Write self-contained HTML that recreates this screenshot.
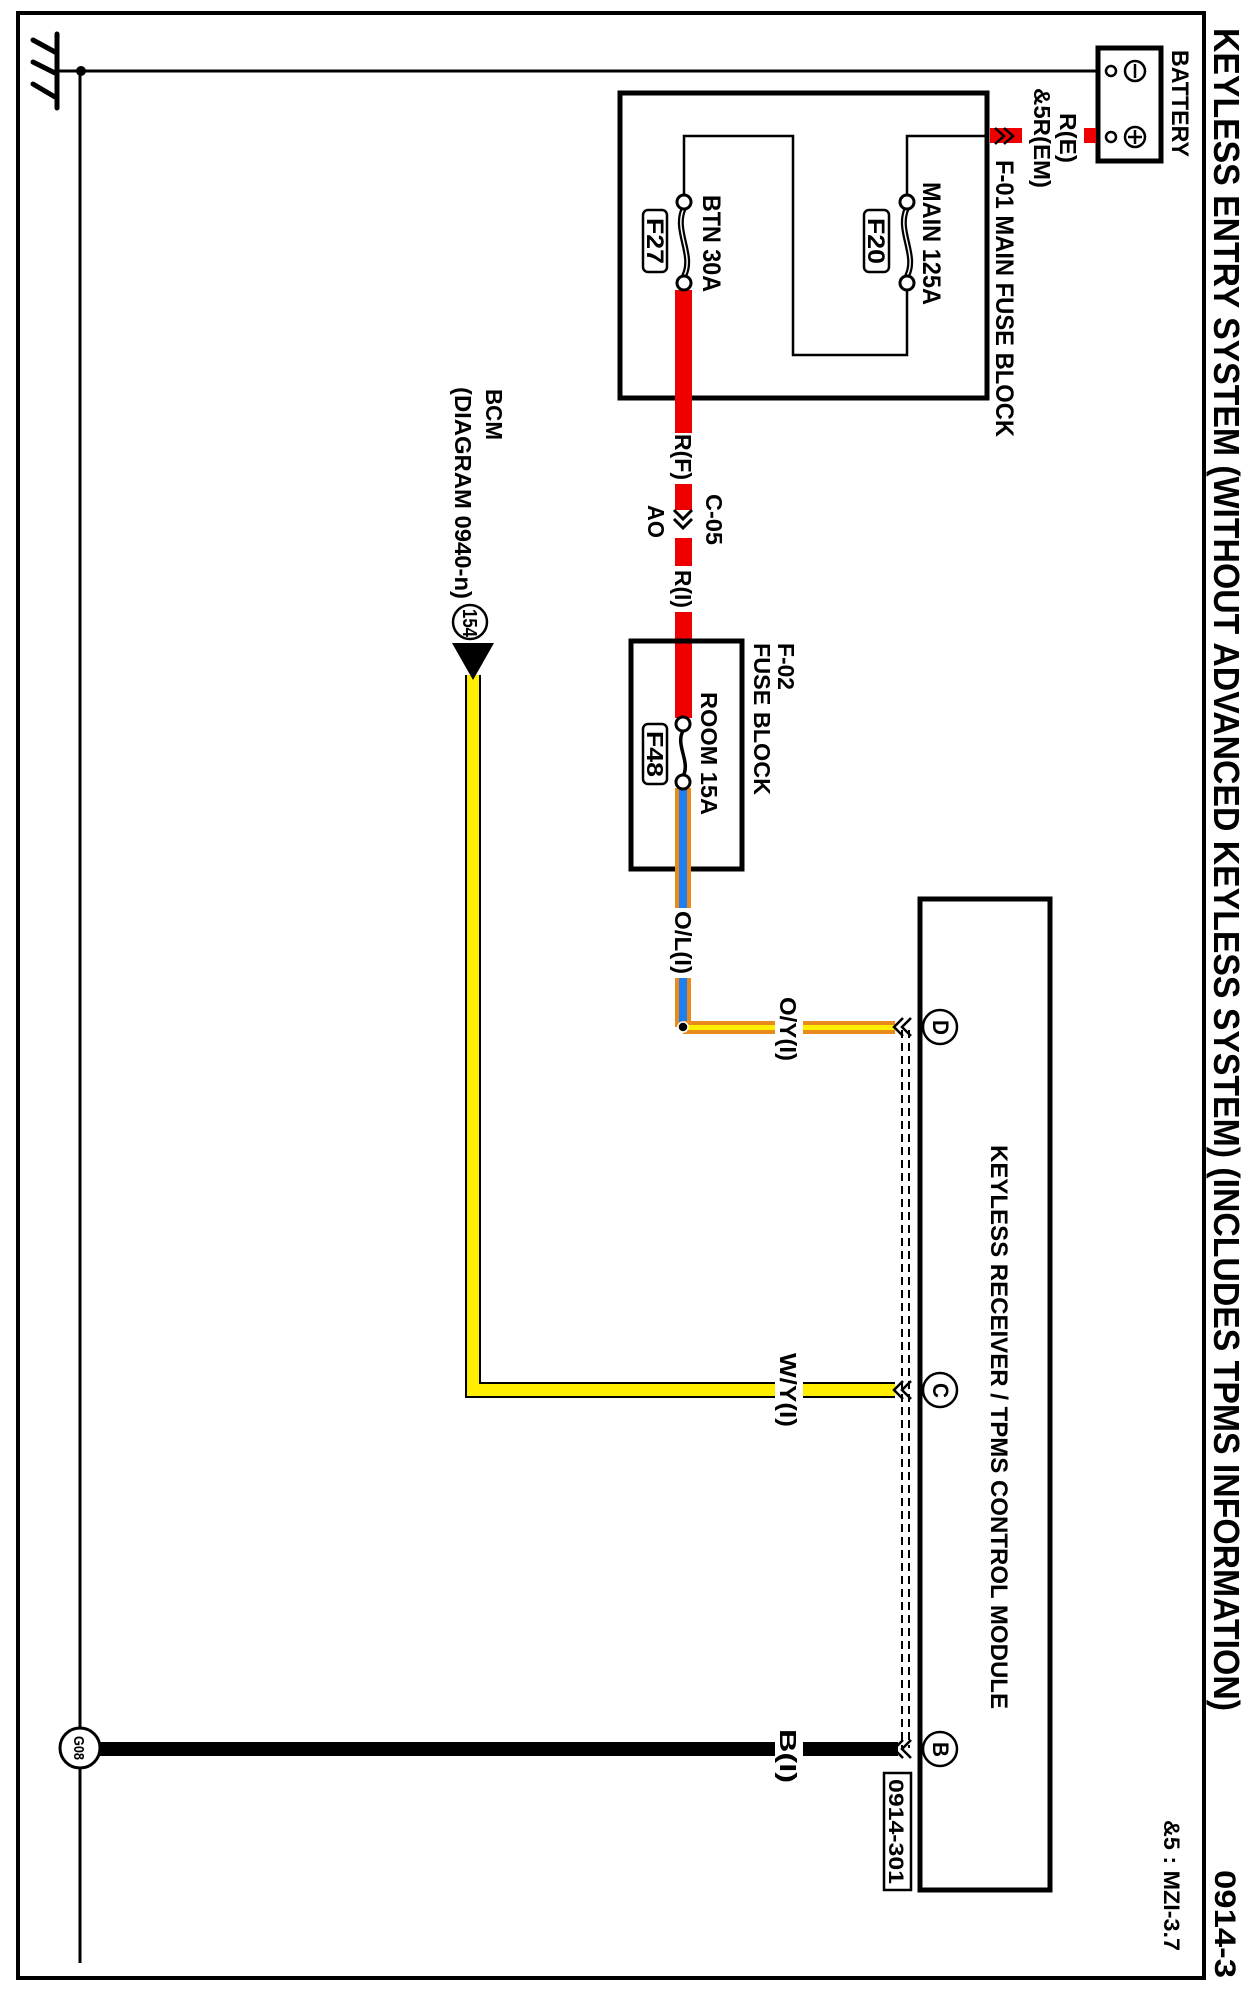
<!DOCTYPE html>
<html><head><meta charset="utf-8"><style>
html,body{margin:0;padding:0;background:#fff;}
svg{display:block;}
text{font-family:"Liberation Sans",Arial,sans-serif;font-weight:bold;fill:#000;}
</style></head><body>
<svg width="1253" height="1998" viewBox="0 0 1253 1998" xmlns="http://www.w3.org/2000/svg">
<rect x="18" y="13" width="1186" height="1965" fill="none" stroke="#000" stroke-width="4"/>
<g stroke="#000" stroke-width="5" stroke-linecap="round">
<line x1="57" y1="34" x2="57" y2="108"/>
<line x1="33" y1="40" x2="55" y2="52"/>
<line x1="33" y1="62" x2="57" y2="74"/>
<line x1="33" y1="84" x2="55" y2="97"/>
</g>
<line x1="57" y1="71" x2="1100" y2="71" stroke="#000" stroke-width="3"/>
<circle cx="81" cy="71" r="5" fill="#000"/>
<line x1="80" y1="71" x2="80" y2="1963" stroke="#000" stroke-width="3"/>

<rect x="1098" y="48" width="63" height="113" fill="#fff" stroke="#000" stroke-width="5"/>
<circle cx="1111" cy="71" r="5" fill="#fff" stroke="#000" stroke-width="2.5"/>
<circle cx="1111" cy="137" r="5" fill="#fff" stroke="#000" stroke-width="2.5"/>
<circle cx="1135" cy="71" r="10" fill="#fff" stroke="#000" stroke-width="2.5"/>
<line x1="1135" y1="64" x2="1135" y2="78" stroke="#000" stroke-width="2.5"/>
<circle cx="1135" cy="137" r="10" fill="#fff" stroke="#000" stroke-width="2.5"/>
<line x1="1135" y1="130" x2="1135" y2="144" stroke="#000" stroke-width="2.5"/>
<line x1="1128" y1="137" x2="1142" y2="137" stroke="#000" stroke-width="2.5"/>
<rect x="1084" y="128" width="12" height="15" fill="#e00"/>
<rect x="990" y="128" width="32" height="15" fill="#e00"/>
<path d="M995 128 L1004 136 L995 144 M1004 128 L1013 136 L1004 144" fill="none" stroke="#000" stroke-width="2.5"/>

<rect x="620" y="93" width="367" height="305" fill="none" stroke="#000" stroke-width="5"/>
<path d="M987 136 L907 136 L907 195 M907 290 L907 355 L793 355 L793 136 L684 136 L684 195" fill="none" stroke="#000" stroke-width="2.5"/>
<g fill="none">
<path d="M907 208 C896 230, 918 255, 907 276" stroke="#000" stroke-width="6"/>
<path d="M907 208 C896 230, 918 255, 907 276" stroke="#fff" stroke-width="1.5"/>
<path d="M684 208 C673 230, 695 255, 684 276" stroke="#000" stroke-width="6"/>
<path d="M684 208 C673 230, 695 255, 684 276" stroke="#fff" stroke-width="1.5"/>
</g>
<rect x="675" y="290" width="17" height="143" fill="#e00"/>
<g fill="#fff" stroke="#000" stroke-width="3">
<circle cx="907" cy="202" r="7"/><circle cx="907" cy="283" r="7"/>
<circle cx="684" cy="202" r="7"/><circle cx="684" cy="283" r="7"/>
</g>
<rect x="864" y="210" width="25" height="62" rx="5" fill="#fff" stroke="#000" stroke-width="2.5"/>
<rect x="643" y="210" width="24" height="62" rx="5" fill="#fff" stroke="#000" stroke-width="2.5"/>

<rect x="675" y="484" width="17" height="26" fill="#e00"/>
<rect x="675" y="538" width="17" height="28" fill="#e00"/>
<rect x="675" y="612" width="17" height="106" fill="#e00"/>
<path d="M674 510 L683 519 L692 510 M674 519 L683 528 L692 519" fill="none" stroke="#000" stroke-width="3"/>

<rect x="631" y="641" width="111" height="228" fill="none" stroke="#000" stroke-width="5"/>
<path d="M683 731 C675 745, 691 762, 683 776" fill="none" stroke="#000" stroke-width="3.5"/>
<rect x="675" y="788" width="16" height="120" fill="#e88a1c"/>
<rect x="679" y="788" width="8" height="120" fill="#1e7ff0"/>
<rect x="675" y="978" width="16" height="49" fill="#e88a1c"/>
<rect x="679" y="978" width="8" height="49" fill="#1e7ff0"/>
<circle cx="683" cy="724" r="7" fill="#fff" stroke="#000" stroke-width="3"/>
<circle cx="683" cy="782" r="7" fill="#fff" stroke="#000" stroke-width="3"/>
<rect x="643" y="724" width="24" height="60" rx="5" fill="#fff" stroke="#000" stroke-width="2.5"/>

<rect x="683" y="1021" width="92" height="13" fill="#e88a1c"/>
<rect x="683" y="1025" width="92" height="5" fill="#ffee00"/>
<rect x="803" y="1021" width="92" height="13" fill="#e88a1c"/>
<rect x="803" y="1025" width="92" height="5" fill="#ffee00"/>
<circle cx="683" cy="1027" r="5" fill="#000" stroke="#fff" stroke-width="1.5"/>

<path d="M775 1390 L473 1390 L473 675" fill="none" stroke="#000" stroke-width="16"/>
<path d="M775 1390 L473 1390 L473 675" fill="none" stroke="#ffee00" stroke-width="12"/>
<line x1="803" y1="1390" x2="895" y2="1390" stroke="#000" stroke-width="16"/>
<line x1="803" y1="1390" x2="895" y2="1390" stroke="#ffee00" stroke-width="12"/>
<polygon points="452,643 494,643 473,680" fill="#000"/>
<circle cx="470" cy="622" r="17" fill="#fff" stroke="#000" stroke-width="2.5"/>

<rect x="95" y="1742" width="680" height="14" fill="#000"/>
<rect x="803" y="1742" width="95" height="14" fill="#000"/>
<circle cx="80" cy="1748" r="20" fill="#fff" stroke="#000" stroke-width="3"/>

<line x1="902" y1="1030" x2="902" y2="1748" stroke="#000" stroke-width="2" stroke-dasharray="8,5"/>
<line x1="909" y1="1030" x2="909" y2="1748" stroke="#000" stroke-width="2" stroke-dasharray="8,5"/>
<g fill="none" stroke="#000" stroke-width="2.5">
<path d="M903 1018 L894 1027 L903 1036 M911 1018 L902 1027 L911 1036"/>
<path d="M903 1381 L894 1390 L903 1399 M911 1381 L902 1390 L911 1399"/>
<path d="M903 1740 L894 1749 L903 1758 M911 1740 L902 1749 L911 1758"/>
</g>

<rect x="920" y="899" width="130" height="991" fill="none" stroke="#000" stroke-width="5"/>
<g fill="#fff" stroke="#000" stroke-width="2.5">
<circle cx="940" cy="1027" r="17"/><circle cx="940" cy="1390" r="17"/><circle cx="940" cy="1749" r="17"/>
</g>
<rect x="884" y="1773" width="27" height="117" fill="#fff" stroke="#000" stroke-width="2.5"/>

<g>
<text font-size="36" transform="translate(1214,28) rotate(90)" textLength="1683" lengthAdjust="spacingAndGlyphs">KEYLESS ENTRY SYSTEM (WITHOUT ADVANCED KEYLESS SYSTEM) (INCLUDES TPMS INFORMATION)</text>
<text font-size="30" transform="translate(1215,1870) rotate(90)" textLength="108" lengthAdjust="spacingAndGlyphs">0914-3</text>
<text font-size="22" transform="translate(1164,1820) rotate(90)" textLength="131" lengthAdjust="spacingAndGlyphs">&amp;5 : MZI-3.7</text>
<text font-size="24" transform="translate(1172,50) rotate(90)" textLength="107" lengthAdjust="spacingAndGlyphs">BATTERY</text>
<text font-size="23" transform="translate(1060,113) rotate(90)" textLength="50" lengthAdjust="spacingAndGlyphs">R(E)</text>
<text font-size="23" transform="translate(1034,88) rotate(90)" textLength="100" lengthAdjust="spacingAndGlyphs">&amp;5R(EM)</text>
<text font-size="25" transform="translate(996,160) rotate(90)" textLength="277" lengthAdjust="spacingAndGlyphs">F-01 MAIN FUSE BLOCK</text>
<text font-size="25" transform="translate(923,182) rotate(90)" textLength="123" lengthAdjust="spacingAndGlyphs">MAIN 125A</text>
<text font-size="24" transform="translate(868,218) rotate(90)" textLength="46" lengthAdjust="spacingAndGlyphs">F20</text>
<text font-size="25" transform="translate(703,195) rotate(90)" textLength="97" lengthAdjust="spacingAndGlyphs">BTN 30A</text>
<text font-size="24" transform="translate(647,218) rotate(90)" textLength="46" lengthAdjust="spacingAndGlyphs">F27</text>
<text font-size="23" transform="translate(675,434) rotate(90)" textLength="46" lengthAdjust="spacingAndGlyphs">R(F)</text>
<text font-size="23" transform="translate(706,494) rotate(90)" textLength="51" lengthAdjust="spacingAndGlyphs">C-05</text>
<text font-size="23" transform="translate(648,505) rotate(90)" textLength="33" lengthAdjust="spacingAndGlyphs">AO</text>
<text font-size="23" transform="translate(675,570) rotate(90)" textLength="38" lengthAdjust="spacingAndGlyphs">R(I)</text>
<text font-size="23" transform="translate(778,643) rotate(90)" textLength="47" lengthAdjust="spacingAndGlyphs">F-02</text>
<text font-size="23" transform="translate(754,643) rotate(90)" textLength="152" lengthAdjust="spacingAndGlyphs">FUSE BLOCK</text>
<text font-size="23" transform="translate(701,692) rotate(90)" textLength="123" lengthAdjust="spacingAndGlyphs">ROOM 15A</text>
<text font-size="23" transform="translate(647,731) rotate(90)" textLength="46" lengthAdjust="spacingAndGlyphs">F48</text>
<text font-size="23" transform="translate(675,911) rotate(90)" textLength="63" lengthAdjust="spacingAndGlyphs">O/L(I)</text>
<text font-size="23" transform="translate(486,389) rotate(90)" textLength="51" lengthAdjust="spacingAndGlyphs">BCM</text>
<text font-size="23" transform="translate(455,387) rotate(90)" textLength="212" lengthAdjust="spacingAndGlyphs">(DIAGRAM 0940-n)</text>
<text font-size="20" transform="translate(463,609) rotate(90)" textLength="28" lengthAdjust="spacingAndGlyphs">154</text>
<text font-size="23" transform="translate(780,997) rotate(90)" textLength="64" lengthAdjust="spacingAndGlyphs">O/Y(I)</text>
<text font-size="23" transform="translate(780,1353) rotate(90)" textLength="74" lengthAdjust="spacingAndGlyphs">W/Y(I)</text>
<text font-size="23" transform="translate(780,1729) rotate(90)" textLength="54" lengthAdjust="spacingAndGlyphs">B(I)</text>
<text font-size="24" transform="translate(991,1145) rotate(90)" textLength="564" lengthAdjust="spacingAndGlyphs">KEYLESS RECEIVER / TPMS CONTROL MODULE</text>
<text font-size="22" transform="translate(933,1020) rotate(90)" textLength="15" lengthAdjust="spacingAndGlyphs">D</text>
<text font-size="22" transform="translate(933,1383) rotate(90)" textLength="15" lengthAdjust="spacingAndGlyphs">C</text>
<text font-size="22" transform="translate(933,1742) rotate(90)" textLength="15" lengthAdjust="spacingAndGlyphs">B</text>
<text font-size="21" transform="translate(889,1779) rotate(90)" textLength="105" lengthAdjust="spacingAndGlyphs">0914-301</text>
<text font-size="15" transform="translate(74,1736) rotate(90)" textLength="24" lengthAdjust="spacingAndGlyphs">G08</text>
</g>
</svg>
</body></html>
